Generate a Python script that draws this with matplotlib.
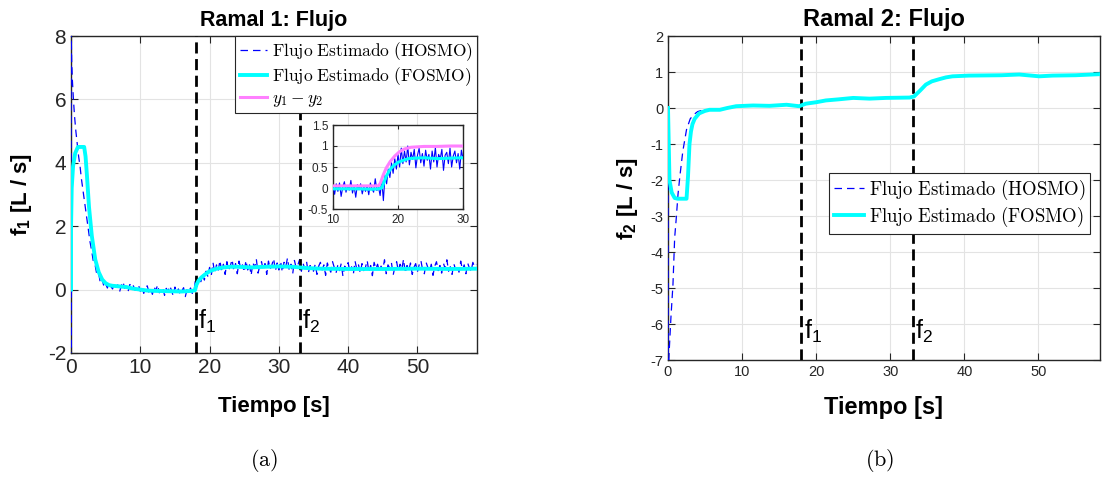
import matplotlib
matplotlib.use("Agg")
import matplotlib.pyplot as plt
import numpy as np

plt.rcParams["font.family"] = "Liberation Sans"
plt.rcParams["axes.unicode_minus"] = False
plt.rcParams["mathtext.fontset"] = "cm"
# used only by texts with math_fontfamily="custom" (f_1, f_2 labels)
plt.rcParams["mathtext.rm"] = "Liberation Sans"
plt.rcParams["mathtext.it"] = "Liberation Sans"
plt.rcParams["mathtext.bf"] = "Liberation Sans:bold"

BLUE = "#0000ff"
CYAN = "#00ffff"
PINK = "#ff80ff"
AXC = "#262626"
GRID = "#e3e3e3"

F1_TIME = 18.0
F2_TIME = 33.0

# ---- Ramal 1 ----
fosmo1_t = [0, 0.0, 0.1, 0.3, 0.6, 1.0, 1.9, 2.1, 2.3, 2.6, 3.0, 3.5, 4.0, 4.5, 5.0,
            5.5, 6, 7, 8, 9, 10, 11, 12, 14, 16, 17.5, 17.9, 18.1, 18.4, 18.8,
            19.3, 20, 21, 22, 23, 24, 26, 28, 30, 32, 33, 34, 36, 40, 45, 50, 55, 58.6]
fosmo1_y = [0, 1.9, 3.2, 3.9, 4.3, 4.5, 4.5, 4.2, 3.6, 2.6, 1.7, 0.95, 0.55, 0.32, 0.2,
            0.14, 0.12, 0.1, 0.08, 0.03, 0.0, -0.03, -0.04, -0.05, -0.06, -0.04, -0.02, 0.15, 0.28, 0.38,
            0.47, 0.58, 0.66, 0.7, 0.72, 0.72, 0.7, 0.72, 0.73, 0.72, 0.7, 0.68, 0.66, 0.65, 0.65, 0.66, 0.65, 0.66]

hosmo1_start_t = [0, 0.0, 0.02, 0.05, 0.1, 0.2, 0.35, 0.5, 0.7, 0.9, 1.1, 1.3, 1.5, 1.75,
                  2.0, 2.25, 2.5, 2.75, 3.0, 3.25, 3.5, 3.75, 4.0, 4.25, 4.5, 4.75]
hosmo1_start_y = [0, -2.5, 8.5, 7.8, 7.2, 6.6, 6.0, 5.5, 5.0, 4.6, 4.2, 3.9, 3.5, 3.1,
                  2.7, 2.3, 1.9, 1.5, 1.2, 0.85, 0.75, 0.45, 0.5, 0.2, 0.32, 0.1]
# sampled every 0.25 s from t = 5 s to 58.5 s
hosmo1_noisy_y = [
    0.18, 0.05, 0.22, 0.10, 0.02, 0.20, 0.08, 0.15, -0.08, 0.12, 0.25, 0.04, 0.10, -0.05, 0.16, 0.06, 0.12, -0.02, 0.08, 0.14,
    -0.05, 0.10, -0.12, 0.05, 0.12, -0.08, 0.02, -0.15, 0.08, -0.03, 0.15, -0.10, 0.00, 0.06, -0.18, 0.04, -0.06, 0.12, -0.02, -0.20,
    0.08, -0.10, 0.02, -0.15, -0.04, 0.06, -0.22, 0.00, -0.06, 0.05, -0.12, -0.08, 0.40, 0.18, 0.35, 0.25, 0.50, 0.30, 0.58, 0.42,
    0.70, 0.45, 0.85, 0.52, 0.78, 0.60, 0.92, 0.55, 0.80, 0.48, 0.88, 0.62, 0.75, 0.95, 0.58, 0.82, 0.50, 0.90, 0.66, 0.78,
    0.55, 0.92, 0.62, 0.80, 0.45, 0.85, 0.70, 0.96, 0.52, 0.76, 0.88, 0.60, 0.82, 0.48, 0.90, 0.65, 0.78, 0.98, 0.58, 0.84,
    0.62, 0.90, 0.55, 0.86, 0.72, 1.00, 0.60, 0.80, 0.50, 0.92, 0.68, 0.78, 0.95, 0.58, 0.82, 0.66, 0.88, 0.52, 0.76, 0.70,
    0.58, 0.80, 0.48, 0.74, 0.86, 0.62, 0.78, 0.45, 0.84, 0.66, 0.55, 0.88, 0.70, 0.52, 0.76, 0.60, 0.82, 0.42, 0.74, 0.68,
    0.85, 0.56, 0.72, 0.48, 0.90, 0.64, 0.78, 0.52, 0.82, 0.60, 0.70, 0.92, 0.55, 0.76, 0.44, 0.86, 0.66, 0.80, 0.58, 0.74,
    0.62, 0.94, 0.50, 0.78, 0.68, 0.85, 0.46, 0.72, 0.88, 0.58, 0.80, 0.64, 0.96, 0.52, 0.76, 0.60, 0.84, 0.48, 0.70, 0.82,
    0.56, 0.78, 0.92, 0.62, 0.50, 0.86, 0.70, 0.58, 0.80, 0.45, 0.74, 0.88, 0.60, 0.76, 0.52, 0.84, 0.66, 0.94, 0.58, 0.72,
    0.48, 0.82, 0.64, 0.76, 0.55, 0.90, 0.62, 0.78, 0.50, 0.84, 0.68, 0.58, 0.86, 0.72, 0.80,
]
hosmo1_noisy_t = np.arange(len(hosmo1_noisy_y)) * 0.25 + 5.0

# inset (zoom of 10..30 s)
ins_y12_t = [10, 12, 14, 16, 17.0, 17.3, 17.7, 18.2, 18.8, 19.5, 20.2, 21, 22, 23, 24, 26, 28, 30]
ins_y12_y = [0.05, 0.05, 0.05, 0.05, 0.05, 0.12, 0.3, 0.48, 0.63, 0.76, 0.86, 0.93, 0.97, 0.98, 0.99, 0.99, 1.0, 1.0]
ins_fosmo_t = [10, 12, 14, 16, 17.0, 17.5, 17.8, 18.2, 18.7, 19.3, 20, 20.8, 21.6, 22.5, 24, 26, 28, 30]
ins_fosmo_y = [-0.02, -0.02, -0.02, -0.03, -0.02, 0.0, 0.12, 0.28, 0.42, 0.53, 0.61, 0.66, 0.70, 0.71, 0.72, 0.70, 0.71, 0.72]
ins_hosmo_y = [
    0.05, -0.15, 0.10, -0.08, 0.12, -0.20, 0.02, 0.15, -0.10, 0.06, -0.05, 0.18, -0.12, 0.04, -0.22, 0.08, -0.04, 0.10, -0.14, 0.03,
    -0.08, 0.06, -0.16, 0.12, -0.02, -0.10, 0.22, -0.06, 0.02, -0.18, 0.20, -0.30, 0.30, 0.10, 0.45, 0.25, 0.60, 0.35, 0.70, 0.45,
    0.80, 0.50, 0.95, 0.58, 0.88, 0.62, 1.00, 0.55, 0.85, 0.68, 0.92, 0.48, 0.78, 0.95, 0.60, 0.82, 0.52, 0.90, 0.66, 0.80,
    0.45, 0.88, 0.62, 0.96, 0.50, 0.80, 0.70, 0.92, 0.42, 0.78, 0.85, 0.58, 0.95, 0.50, 0.76, 0.88, 0.60, 0.82, 0.45, 0.90, 0.70,
]
ins_hosmo_t = np.arange(len(ins_hosmo_y)) * 0.25 + 10.0

# ---- Ramal 2 ----
fosmo2_t = [0, 0.2, 0.5, 0.9, 1.3, 2.5, 2.7, 2.9, 3.1, 3.3, 3.6, 4.2, 5.0, 5.6, 7, 8, 9.2, 11.5,
            13.7, 16, 17.7, 18.6, 20, 21.3, 23, 25, 27.2, 29.4, 32.6, 33.2, 34, 34.8, 35.6, 36.6,
            37.5, 38.4, 40.6, 45, 47.4, 50.1, 51.9, 55, 58.3]
fosmo2_y = [0, -2.0, -2.35, -2.5, -2.52, -2.52, -1.9, -1.0, -0.65, -0.45, -0.3, -0.15, -0.08, -0.05, -0.05, 0.0, 0.05, 0.07,
            0.06, 0.09, 0.05, 0.12, 0.16, 0.21, 0.24, 0.28, 0.26, 0.28, 0.29, 0.32, 0.48, 0.65, 0.74, 0.8,
            0.85, 0.88, 0.9, 0.91, 0.93, 0.88, 0.9, 0.91, 0.94]
hosmo2_t = [0, 0.02, 0.15, 0.4, 0.67, 0.9, 1.1, 1.35, 1.6, 2.0, 2.5, 3.0, 3.5, 4.0, 4.5, 5.0, 5.6, 7,
            8, 9.2, 11.5, 13.7, 16, 17.7, 18.6, 20, 21.3, 23, 25, 27.2, 29.4, 32.6, 33.2, 34, 34.8,
            35.6, 36.6, 37.5, 38.4, 40.6, 45, 47.4, 50.1, 51.9, 55, 58.3]
hosmo2_y = [0, -7.5, -6.8, -5.8, -4.9, -3.6, -3.1, -2.4, -1.9, -1.2, -0.6, -0.3, -0.18, -0.1, -0.07, -0.06, -0.05, -0.05,
            0.0, 0.05, 0.07, 0.06, 0.09, 0.05, 0.12, 0.16, 0.21, 0.24, 0.28, 0.26, 0.28, 0.29, 0.32, 0.48, 0.65,
            0.74, 0.8, 0.85, 0.88, 0.9, 0.91, 0.93, 0.88, 0.9, 0.91, 0.94]

LABEL_HOSMO = r"$\mathrm{Flujo\ Estimado\ (HOSMO)}$"
LABEL_FOSMO = r"$\mathrm{Flujo\ Estimado\ (FOSMO)}$"
LABEL_Y12 = r"$y_1 - y_2$"

W, H = 1103, 479


def px_axes(fig, left, top, right, bottom):
    return fig.add_axes([left / W, 1 - bottom / H, (right - left) / W, (bottom - top) / H])


def style(ax, fs):
    ax.grid(True, color=GRID, lw=0.8)
    ax.set_axisbelow(True)
    ax.tick_params(direction="in", top=True, right=True, labelsize=fs,
                   color=AXC, labelcolor=AXC, length=5, width=0.8)
    for s in ax.spines.values():
        s.set_color(AXC)
        s.set_linewidth(1.0)


def fault_lines(ax, ytxt, fs):
    for tt, lab in [(F1_TIME, r"f$_1$"), (F2_TIME, r"f$_2$")]:
        ax.axvline(tt, color="black", lw=2, ls=(0, (4, 2)), zorder=4)
        ax.text(tt + 0.4, ytxt, lab, fontsize=fs, va="center", ha="left",
                math_fontfamily="custom", zorder=6)


fig = plt.figure(figsize=(W / 100, H / 100), dpi=100)

# ---------- (a) ----------
ax1 = px_axes(fig, 71, 36, 477, 353)
style(ax1, 15)
ax1.plot(np.concatenate([hosmo1_start_t, hosmo1_noisy_t]),
         np.concatenate([hosmo1_start_y, hosmo1_noisy_y]),
         color=BLUE, lw=0.9, ls=(0, (6, 4)), zorder=3)
ax1.plot(fosmo1_t, fosmo1_y, color=CYAN, lw=2.8, zorder=5)
fault_lines(ax1, -1.0, 18)
ax1.set_xlim(0, 58.6)
ax1.set_ylim(-2, 8)
ax1.set_xticks(np.arange(0, 51, 10))
ax1.set_yticks(np.arange(-2, 9, 2))
ax1.set_title("Ramal 1: Flujo", fontsize=15.5, fontweight="bold", pad=7)
ax1.set_xlabel("Tiempo [s]", fontsize=16, fontweight="bold")
ax1.xaxis.set_label_coords(0.5, -0.135)
ax1.set_ylabel(r"f$_\mathbf{1}$ [L / s]", fontsize=16, fontweight="bold", math_fontfamily="custom")
ax1.yaxis.set_label_coords(-0.09, 0.5)

ins = px_axes(fig, 333, 125, 463, 209)
style(ins, 8.5)
ins.tick_params(length=3)
ins.plot(ins_hosmo_t, ins_hosmo_y, color=BLUE, lw=0.8, zorder=3)
ins.plot(ins_y12_t, ins_y12_y, color=PINK, lw=2.2, zorder=4)
ins.plot(ins_fosmo_t, ins_fosmo_y, color=CYAN, lw=2.2, zorder=5)
ins.set_xlim(10, 30)
ins.set_ylim(-0.5, 1.5)
ins.set_xticks([10, 20, 30])
ins.set_yticks([-0.5, 0, 0.5, 1, 1.5])
ins.set_yticklabels(["-0.5", "0", "0.5", "1", "1.5"])

h1 = plt.Line2D([], [], color=BLUE, lw=0.9, ls=(0, (6, 4)))
h2 = plt.Line2D([], [], color=CYAN, lw=2.8)
h3 = plt.Line2D([], [], color=PINK, lw=2.2)
leg1 = ax1.legend([h1, h2, h3], [LABEL_HOSMO, LABEL_FOSMO, LABEL_Y12], loc="upper right",
                  borderaxespad=0, fontsize=12.5, handlelength=1.6, handletextpad=0.25,
                  borderpad=0.25, labelspacing=0.15, fancybox=False, framealpha=1,
                  edgecolor=AXC)
leg1.get_frame().set_linewidth(0.8)
leg1.set_zorder(10)

# ---------- (b) ----------
ax2 = px_axes(fig, 668, 36, 1100, 360)
style(ax2, 10.5)
ax2.plot(hosmo2_t, hosmo2_y, color=BLUE, lw=0.9, ls=(0, (6, 4)), zorder=3)
ax2.plot(fosmo2_t, fosmo2_y, color=CYAN, lw=2.8, zorder=5)
fault_lines(ax2, -6.2, 18)
ax2.set_xlim(0, 58.3)
ax2.set_ylim(-7, 2)
ax2.set_xticks(np.arange(0, 51, 10))
ax2.set_yticks(np.arange(-7, 3, 1))
ax2.set_title("Ramal 2: Flujo", fontsize=17, fontweight="bold", pad=7)
ax2.set_xlabel("Tiempo [s]", fontsize=17, fontweight="bold")
ax2.xaxis.set_label_coords(0.5, -0.11)
ax2.set_ylabel(r"f$_\mathbf{2}$ [L / s]", fontsize=16, fontweight="bold", math_fontfamily="custom")
ax2.yaxis.set_label_coords(-0.065, 0.5)
leg2 = ax2.legend([h1, h2], [LABEL_HOSMO, LABEL_FOSMO], loc="upper right",
                  bbox_to_anchor=(0.977, 0.577), borderaxespad=0, fontsize=13.5,
                  handlelength=1.6, handletextpad=0.25, borderpad=0.25, labelspacing=0.15,
                  fancybox=False, framealpha=1, edgecolor=AXC)
leg2.get_frame().set_linewidth(0.8)
leg2.set_zorder(10)

fig.text(264 / W, 1 - 460 / H, r"$\mathrm{(a)}$", ha="center", va="center", fontsize=16)
fig.text(880 / W, 1 - 460 / H, r"$\mathrm{(b)}$", ha="center", va="center", fontsize=16)

fig.savefig("out.png", dpi=100, facecolor="white")
